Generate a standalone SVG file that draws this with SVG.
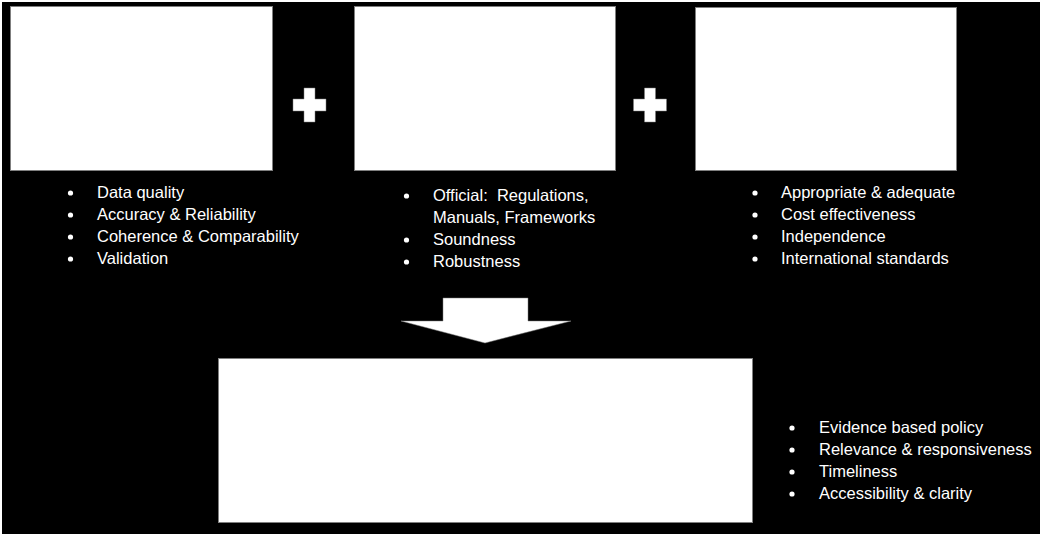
<svg xmlns="http://www.w3.org/2000/svg" width="1042" height="536" viewBox="0 0 1042 536">
<style>
.box{fill:#ffffff;stroke:#7f7f7f;stroke-width:1}
.shape{fill:#ffffff;stroke:#7f7f7f;stroke-width:0.5}
.t{font-family:"Liberation Sans",Arial,sans-serif;font-size:16.5px;fill:#ffffff}
.dot{fill:#ffffff}
</style>
<defs>
<circle id="bullet" class="dot" cx="0" cy="0" r="2.6"/>
</defs>
<rect x="0" y="0" width="1042" height="536" fill="#ffffff"/>
<rect x="2" y="2" width="1038" height="532" fill="#000000"/>
<g id="box-data">
<rect class="box" x="10.5" y="6.5" width="262" height="164"/>
</g>
<g id="box-methods">
<rect class="box" x="354.5" y="6.5" width="261" height="164"/>
</g>
<g id="box-institution">
<rect class="box" x="695.5" y="7.5" width="261" height="163"/>
</g>
<g id="box-result">
<rect class="box" x="218.5" y="358.5" width="534" height="164"/>
</g>
<g id="plus1">
<path class="shape" d="M304,88H315V99H326V111H315V122H304V111H293V99H304Z"/>
</g>
<g id="plus2">
<path class="shape" d="M644.5,88H655.5V99H666.5V111H655.5V122H644.5V111H633.5V99H644.5Z"/>
</g>
<g id="connectors">
<polygon class="shape" points="443,298 528,298 528,321 571,321 485,343 401,321 443,321"/>
</g>
<g id="list-data" class="t">
<use href="#bullet" x="70.5" y="193"/><text x="97" y="198">Data quality</text>
<use href="#bullet" x="70.5" y="215"/><text x="97" y="220">Accuracy &amp; Reliability</text>
<use href="#bullet" x="70.5" y="237"/><text x="97" y="242">Coherence &amp; Comparability</text>
<use href="#bullet" x="70.5" y="259"/><text x="97" y="264">Validation</text>
</g>
<g id="list-methods" class="t">
<use href="#bullet" x="406.5" y="196"/><text x="433" y="201">Official:&#160; Regulations,</text>
<text x="433" y="223">Manuals, Frameworks</text>
<use href="#bullet" x="406.5" y="240"/><text x="433" y="245">Soundness</text>
<use href="#bullet" x="406.5" y="262"/><text x="433" y="267">Robustness</text>
</g>
<g id="list-institution" class="t">
<use href="#bullet" x="755" y="193"/><text x="781" y="198">Appropriate &amp; adequate</text>
<use href="#bullet" x="755" y="215"/><text x="781" y="220">Cost effectiveness</text>
<use href="#bullet" x="755" y="237"/><text x="781" y="242">Independence</text>
<use href="#bullet" x="755" y="259"/><text x="781" y="264">International standards</text>
</g>
<g id="list-result" class="t">
<use href="#bullet" x="792" y="428"/><text x="819" y="433">Evidence based policy</text>
<use href="#bullet" x="792" y="450"/><text x="819" y="455">Relevance &amp; responsiveness</text>
<use href="#bullet" x="792" y="472"/><text x="819" y="477">Timeliness</text>
<use href="#bullet" x="792" y="494"/><text x="819" y="499">Accessibility &amp; clarity</text>
</g>
</svg>
